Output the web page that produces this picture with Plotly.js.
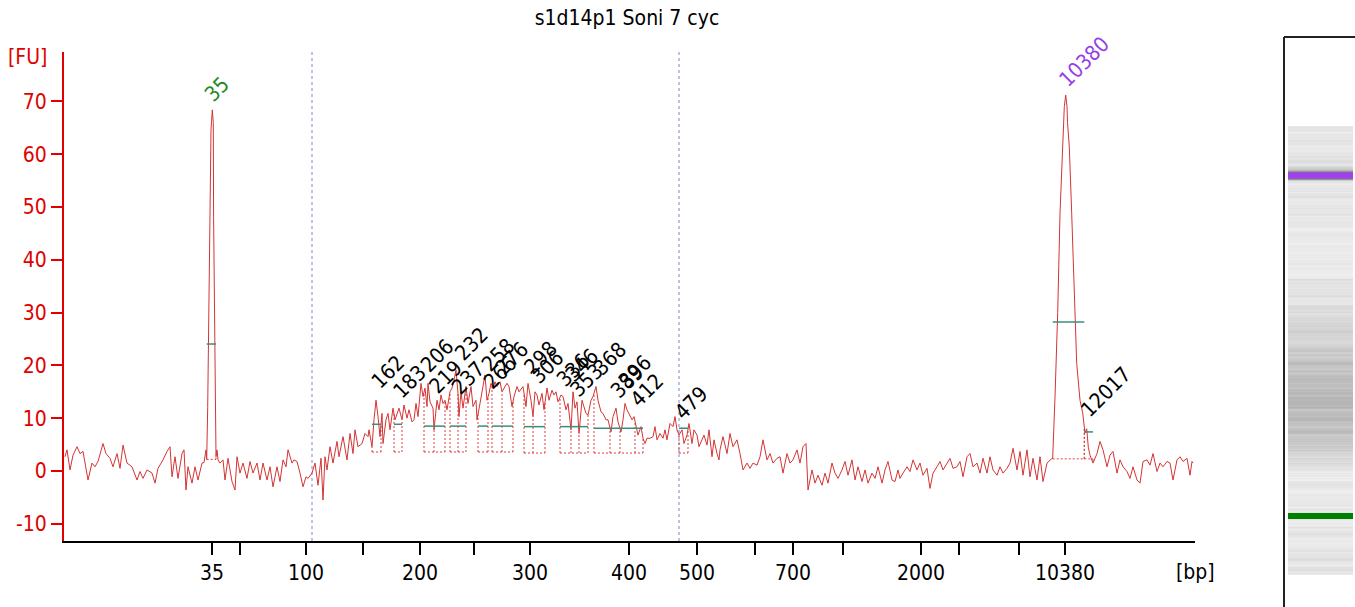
<!DOCTYPE html>
<html><head><meta charset="utf-8">
<script src="https://cdn.plot.ly/plotly-3.0.1.min.js"></script>
<style>html,body{margin:0;padding:0;background:#fff}#chart{width:1355px;height:607px}</style>
</head><body><div id="chart"></div>
<script>
// ---------------- DATA ----------------
const chartTitle = 's1d14p1 Soni 7 cyc';

// electropherogram: migration position (arb. units) vs fluorescence [FU]
const migPos = [
 65,67,70,73,77,80,83,88,92,95,
 98,103,106,110,113,117,120,123,127,132,
 137,140,143,147,152,155,158,163,167,170,
 172,175,178,182,184,186,188,192,195,198,
 202,204,206,
 206.7,207.7,209.3,211,212.3,213.3,213.6,214.3,215,216,
 217,218,220,223,225,228,232,235,237,240,
 243,247,250,253,257,260,263,267,270,273,
 277,280,283,286,288,292,294,297,300,303,
 306,308,312,315,318,321,323,325,327,330,
 333,337,339,343,347,350,353,355,358,362,
 365,368,
 369,372,374,376,378,380,382,383,386,388,
 390,393,395,397,399,402,404,407,409,412,
 414,416,418,421,423,425,427,428,430,433,
 434,437,439,441,443,445,447,450,452,454,
 456,458,459,461,463,466,468,471,473,476,
 477,480,483,485,487,489,491,493,495,497,
 500,502,505,507,509,512,514,517,519,
 520,523,526,528,531,533,535,537,539,542,
 544,547,549,552,554,556,558,561,563,566,
 568,571,573,575,577,579,582,584,586,588,
 591,593,596,598,601,603,606,608,611,613,
 616,618,621,623,625,627,629,632,634,636,
 638,641,643,645,647,650,653,655,657,660,
 663,665,667,670,673,675,677,679,682,684,
 687,689,692,694,697,699,702,704,707,709,
 712,714,717,719,
 720,723,727,730,733,737,740,743,747,750,
 753,757,760,763,767,770,773,777,780,783,
 787,790,793,797,800,803,806,808,812,815,
 818,822,825,828,832,835,838,842,845,848,
 852,855,858,862,865,868,872,875,878,882,
 885,888,892,895,898,
 900,903,907,910,913,917,920,923,927,930,
 933,937,940,943,947,950,953,957,960,963,
 967,970,973,977,980,983,987,990,993,997,
 1000,1003,1007,1010,1013,1017,1020,1023,1027,1030,
 1033,1037,1040,1043,1047,1050,
 1052.7,1055,1057.7,1060,1062.3,1064.3,1065.7,1067,1067.5,1069.3,
 1071.7,1074.3,1076.7,1080,1082.7,1085,1086.7,1088.3,1090,
 1093,1097,1100,1103,1107,1110,1113,1117,1120,1123,
 1127,1130,1133,1137,1140,1143,1147,1150,1153,1157,
 1160,1163,1167,1170,1173,1177,1180,1183,1187,1190,
 1192,1193
];
const fluor = [
 2.7,4.0,0.2,3.0,4.6,3.3,3.7,-1.7,1.5,0.8,
 1.8,5.2,3.3,2.4,0.8,3.3,0.5,4.9,1.5,0.8,
 -1.7,-0.1,-1.4,0.2,-0.4,-2.3,0.5,2.1,3.7,4.6,
 -1.1,2.7,-1.4,3.3,4.0,-3.6,0.8,-2.3,0.8,-1.7,
 1.5,1.6,4.0,
 2.2,12.0,40.5,64.6,68.4,66.0,48.0,34.0,15.0,2.7,
 4.0,2.1,1.5,2.1,-1.7,2.4,-2.0,-3.6,2.7,-0.4,
 1.5,-1.4,1.8,-0.4,1.5,-1.7,1.5,-1.7,0.8,-3.0,
 0.8,-2.0,2.1,0.8,4.0,1.5,2.1,1.8,-0.4,-3.0,
 -1.1,-1.4,-0.4,1.5,-2.7,2.4,-5.5,2.7,0.2,4.6,
 1.5,5.6,2.7,6.5,2.1,7.1,3.3,7.8,4.6,5.2,
 7.1,6.5,
 7.8,4.6,9.7,13.4,10.3,6.5,10.9,5.2,9.7,10.9,
 7.8,11.9,9.7,10.9,11.9,9.7,12.5,10.0,11.6,9.3,
 9.7,12.8,10.3,16.6,14.1,15.7,12.2,16.6,13.1,11.9,
 7.8,13.4,11.6,14.4,12.8,13.4,11.6,15.0,15.7,17.2,
 19.1,14.7,10.3,15.0,11.9,16.0,12.8,16.0,12.2,13.4,
 9.7,12.8,16.0,18.2,13.4,14.7,16.6,15.7,16.9,16.0,
 16.9,15.0,16.0,16.6,16.0,12.2,14.1,16.0,15.0,
 15.3,16.0,12.2,16.6,13.4,10.3,15.0,14.4,12.5,14.7,
 11.6,15.7,13.4,15.3,14.4,15.0,13.1,14.4,14.1,11.6,
 12.8,7.8,15.0,11.9,13.1,7.1,13.4,12.2,10.9,10.6,
 13.4,14.1,16.0,13.4,11.2,10.9,9.7,9.7,7.4,10.3,
 11.9,9.3,7.4,9.7,12.8,11.6,10.9,9.7,10.3,8.4,
 6.8,8.4,6.2,5.2,6.2,6.2,6.5,8.4,5.9,7.1,
 6.2,7.8,5.9,9.0,8.4,10.3,7.8,6.8,7.8,5.2,
 6.8,9.0,5.2,7.8,6.8,4.6,5.9,6.8,4.9,7.8,
 2.7,5.9,3.3,2.1,
 4.0,6.5,3.3,7.1,4.6,5.9,3.3,0.2,1.5,0.5,
 1.5,1.1,2.7,5.9,2.1,3.3,1.5,2.4,2.7,-0.4,
 3.3,1.5,2.1,4.0,1.5,4.6,5.2,-3.6,0.2,-2.3,
 -0.8,-2.7,-0.4,-2.3,1.5,-0.4,-1.4,0.2,1.8,-0.8,
 2.1,-1.7,0.8,-2.0,0.2,-2.3,-0.4,-1.4,0.8,-2.3,
 0.2,1.8,-1.7,-2.0,0.2,
 -1.4,-0.4,0.8,-0.1,2.1,0.2,1.5,-0.8,0.5,-3.3,
 -0.4,0.8,1.8,0.2,1.5,2.4,0.5,0.8,1.8,-1.1,
 2.7,3.3,0.8,1.5,-0.4,2.4,-0.4,2.7,0.2,-0.8,
 0.8,-0.4,0.5,1.5,4.3,0.2,3.7,-0.8,4.0,-1.1,
 2.4,-1.7,2.7,-2.0,1.5,2.1,
 2.5,14.0,30.0,48.8,61.4,69.0,71.2,69.0,66.0,61.4,
 48.8,34.9,20.4,13.4,11.0,7.2,8.0,4.5,3.0,
 1.5,3.3,5.6,4.0,0.8,3.0,3.7,-0.4,2.1,0.8,
 -0.1,-1.4,0.8,-1.7,-2.3,1.8,2.1,1.1,3.3,-0.1,
 1.5,0.8,1.8,1.5,-1.7,2.1,2.7,1.8,2.4,-0.8,
 1.8,1.5
];

// ladder (bp) tick marks on the migration axis
const ladderTickPos = [212,240,306,363,420,474,530,629,697,755,793,843,921,959,1019,1065];
const ladderTickLabels = ['35','','100','','200','','300','400','500','','700','','2000','','','10380'];
const fuTickVals = [-10,0,10,20,30,40,50,60,70];
const fuTickLabels = ['-10','0','10','20','30','40','50','60','70'];

// smear region boundaries (migration position)
const regionBounds = [312, 679];

// peak table: size label, migration position, height [FU], kind (LM lower marker, UM upper marker)
const peakSizes  = ['35','162','183','206','219','232','237','258','266','276','298','306','336','346','353','368','389','396','412','479','10380','12017'];
const peakPos    = [212,378.5,400,427.3,436.3,461.8,458.5,488.5,490,502,531,537.7,563.7,572.7,577.7,600.2,617,625.2,637.7,681.8,1066,1088];
const peakHeight = [68.3,13.9,12.0,17.0,12.9,19.3,12.8,17.2,13.8,16.4,16.5,14.9,14.3,15.2,12.3,16.4,12.1,13.9,10.5,8.1,71.1,8.5];
const peakKind   = ['LM','','','','','','','','','','','','','','','','','','','','UM',''];

// peak integration windows: boundaries, baseline level, half-height level [FU]
const windowBounds = [
 [206.7,216],
 [372,381],[394,402],[424,434,445],[450,458,466],[478,488],[492,502,513],
 [524,533,545],[560,571,579,588],[594,610,620,635,643],[679,688],
 [1052.7,1084.3],[1084.3,1093]
];
const windowBaseline   = [2.2, 3.6,3.6,3.6,3.6,3.6,3.6, 3.4,3.4,3.4,3.4, 2.3,2.3];
const windowHalfHeight = [24.05, 8.85,8.85,8.5,8.5,8.5,8.5, 8.4,8.4,8.1,8.1, 28.2,7.4];

// ---------------- STYLE ----------------
const W = 1355, H = 607;
const FONT = '"DejaVu Sans Condensed", "Liberation Sans", Arial, sans-serif';
const RED = '#e00000';
const TRACE = '#d43434';
const TEAL = '#3d8c7c';
const kindColor = {LM: '#1f8a1f', UM: '#9440e4', '': '#000000'};
const laneColor = {LM: '#008000', UM: '#a040f0'};
const px = v => v / W, py = v => 1 - v / H;

if (migPos.length !== fluor.length) console.error('length mismatch', migPos.length, fluor.length);

function fluorAt(p) {
  for (let i = 0; i < migPos.length - 1; i++) {
    if (p >= migPos[i] && p <= migPos[i + 1]) {
      const t = (p - migPos[i]) / (migPos[i + 1] - migPos[i]);
      return fluor[i] + t * (fluor[i + 1] - fluor[i]);
    }
  }
  return 0;
}

// dashed window outlines & half-height bars
const boxX = [], boxY = [], halfX = [], halfY = [];
windowBounds.forEach((b, k) => {
  const base = windowBaseline[k];
  boxX.push(b[0], b[b.length - 1], null); boxY.push(base, base, null);
  b.forEach(v => { boxX.push(v, v, null); boxY.push(base, fluorAt(v), null); });
  halfX.push(b[0], b[b.length - 1], null); halfY.push(windowHalfHeight[k], windowHalfHeight[k], null);
});

const traces = [
  {type: 'scatter', mode: 'lines', x: boxX, y: boxY, line: {color: '#e23a3a', width: 1, dash: '2px,2px'}, hoverinfo: 'skip'},
  {type: 'scatter', mode: 'lines', x: migPos, y: fluor, line: {color: TRACE, width: 1}, hoverinfo: 'skip'},
  {type: 'scatter', mode: 'lines', x: halfX, y: halfY, line: {color: TEAL, width: 1.5}, hoverinfo: 'skip'},
  // gel lane
  {type: 'heatmap', x: [0], y: migPos, z: fluor.map(v => [v]), xaxis: 'x2', yaxis: 'y2',
   zmin: -6, zmax: 30, showscale: false, hoverinfo: 'skip',
   colorscale: [[0, '#f7f7f7'], [0.167, '#eaeaea'], [0.306, '#dcdcdc'], [0.444, '#cbcbcb'],
                [0.583, '#bababa'], [0.722, '#aaaaaa'], [1, '#7a7a7a']]}
];
peakKind.forEach((k, i) => {
  if (k) traces.push({type: 'scatter', mode: 'lines', x: [-0.5, 0.5], y: [peakPos[i], peakPos[i]],
    xaxis: 'x2', yaxis: 'y2', line: {color: laneColor[k], width: 6}, hoverinfo: 'skip'});
});

const annotations = peakSizes.map((s, i) => ({
  x: peakPos[i], y: peakHeight[i], xref: 'x', yref: 'y', text: s, showarrow: false,
  textangle: -45, xanchor: 'center', yanchor: 'middle',
  xshift: -3 + 4.2 * s.length, yshift: 13 + 4.2 * s.length,
  font: {family: FONT, size: 21, color: kindColor[peakKind[i]]}
}));
annotations.push({x: px(27), y: py(57), xref: 'paper', yref: 'paper', text: '[FU]', showarrow: false,
  xanchor: 'center', yanchor: 'middle', font: {family: FONT, size: 21, color: RED}});
annotations.push({x: px(1195), y: py(572), xref: 'paper', yref: 'paper', text: '[bp]', showarrow: false,
  xanchor: 'center', yanchor: 'middle', font: {family: FONT, size: 21, color: '#000'}});

const shapes = regionBounds.map(b => ({type: 'line', xref: 'x', yref: 'y domain', x0: b, x1: b, y0: 0, y1: 1,
  layer: 'below', line: {color: '#8080d8', width: 1, dash: 'dot'}}));
shapes.push({type: 'line', xref: 'paper', yref: 'paper', x0: px(1284), x1: px(1284), y0: 0, y1: py(37), line: {color: '#222', width: 2}});
shapes.push({type: 'line', xref: 'paper', yref: 'paper', x0: px(1284), x1: 1, y0: py(37), y1: py(37), line: {color: '#222', width: 2}});

const layout = {
  width: W, height: H, margin: {l: 0, r: 0, t: 0, b: 0},
  paper_bgcolor: '#fff', plot_bgcolor: 'rgba(0,0,0,0)', showlegend: false,
  font: {family: FONT, size: 21, color: '#000'},
  title: {text: chartTitle, x: px(627), xanchor: 'center', y: py(18), yanchor: 'middle',
          font: {family: FONT, size: 21, color: '#000'}},
  xaxis: {domain: [px(64), px(1195)], range: [64, 1195], tickmode: 'array', tickvals: ladderTickPos, ticktext: ladderTickLabels,
          ticks: 'outside', ticklen: 12, tickwidth: 2, tickcolor: '#000', showline: true, linecolor: '#000', linewidth: 2,
          showgrid: false, zeroline: false, automargin: false, tickfont: {family: FONT, size: 21, color: '#000'}},
  yaxis: {domain: [py(541), py(52)], range: [-13.26, 79.36], tickmode: 'array', tickvals: fuTickVals, ticktext: fuTickLabels,
          ticks: 'outside', ticklen: 11, tickwidth: 2, tickcolor: RED, showline: true, linecolor: RED, linewidth: 2,
          showgrid: false, zeroline: false, automargin: false, tickfont: {family: FONT, size: 21, color: RED}},
  xaxis2: {domain: [px(1288), px(1353)], anchor: 'y2', range: [-0.5, 0.5], visible: false},
  yaxis2: {domain: [py(578), py(126)], anchor: 'x2', range: [56.5, 1190], visible: false},
  annotations: annotations, shapes: shapes
};

Plotly.newPlot('chart', traces, layout, {staticPlot: true, displayModeBar: false});
</script>
</body></html>
